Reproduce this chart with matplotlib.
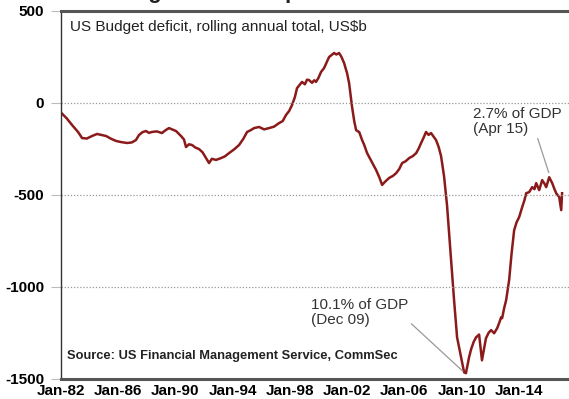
import matplotlib.pyplot as plt

# rolling annual total, read as (decimal year, US$b)
years = [
    1982.00, 1982.40, 1982.77, 1983.20, 1983.47, 1983.80, 1984.17, 1984.52,
    1984.85, 1985.15, 1985.50, 1985.85, 1986.20, 1986.62, 1986.95, 1987.24,
    1987.45, 1987.70, 1987.94, 1988.15, 1988.36, 1988.70, 1989.06, 1989.30,
    1989.55, 1989.80, 1990.04, 1990.39, 1990.60, 1990.74, 1990.95, 1991.16,
    1991.40, 1991.65, 1991.90, 1992.14, 1992.35, 1992.55, 1992.84, 1993.19,
    1993.45, 1993.75, 1994.10, 1994.45, 1994.75, 1995.01, 1995.25, 1995.50,
    1995.85, 1996.20, 1996.55, 1996.90, 1997.24, 1997.50, 1997.73, 1997.95,
    1998.15, 1998.35, 1998.50, 1998.70, 1998.85, 1999.05, 1999.20, 1999.34,
    1999.55, 1999.70, 1999.83, 2000.00, 2000.18, 2000.39, 2000.55, 2000.74,
    2000.90, 2001.09, 2001.25, 2001.44, 2001.60, 2001.79, 2002.00, 2002.14,
    2002.35, 2002.50, 2002.63, 2002.85, 2003.05, 2003.20, 2003.40, 2003.70,
    2004.03, 2004.25, 2004.45, 2004.65, 2004.94, 2005.20, 2005.43, 2005.65,
    2005.85, 2006.10, 2006.34, 2006.60, 2006.83, 2007.00, 2007.17, 2007.35,
    2007.52, 2007.70, 2007.87, 2008.05, 2008.22, 2008.40, 2008.57, 2008.78,
    2008.99, 2009.27, 2009.48, 2009.69, 2009.97, 2010.18, 2010.31, 2010.53,
    2010.67, 2010.85, 2011.02, 2011.23, 2011.43, 2011.71, 2011.90, 2012.07,
    2012.28, 2012.49, 2012.63, 2012.77, 2012.84, 2012.98, 2013.12, 2013.33,
    2013.50, 2013.68, 2013.85, 2014.03, 2014.24, 2014.40, 2014.52, 2014.73,
    2014.94, 2015.10, 2015.22, 2015.43, 2015.64, 2015.80, 2015.92, 2016.13,
    2016.34, 2016.50, 2016.62, 2016.83, 2016.97, 2017.03,
]
deficit = [
    -54, -85, -121, -160, -192, -195, -181, -170,
    -176, -181, -196, -208, -214, -219, -216, -203,
    -176, -160, -154, -164, -159, -156, -165, -150,
    -138, -146, -154, -181, -200, -241, -226, -230,
    -244, -252, -270, -301, -328, -305, -311, -301,
    -292, -274, -254, -230, -196, -159, -150, -138,
    -132, -145, -138, -130, -111, -100, -67, -45,
    -13, 30, 79, 98, 113, 100, 125, 123,
    108, 122, 113, 135, 167, 188, 215, 248,
    258, 270, 262, 270, 250, 216, 160, 107,
    -23, -100, -149, -160, -203, -230, -274, -318,
    -366, -405, -447, -430, -409, -398, -383, -360,
    -328, -318, -301, -290, -274, -250, -220, -190,
    -159, -175, -165, -185, -203, -240, -290, -400,
    -560, -856, -1073, -1275, -1383, -1465, -1470, -1383,
    -1340, -1300, -1275, -1260, -1400, -1280, -1250, -1236,
    -1253, -1226, -1198, -1166, -1171, -1117, -1073, -964,
    -820, -693, -650, -622, -568, -530, -492, -486,
    -459, -470, -437, -475, -421, -440, -459, -405,
    -437, -470, -492, -513, -584, -492,
]

tick_years = [1982, 1986, 1990, 1994, 1998, 2002, 2006, 2010, 2014]
tick_labels = ["Jan-82", "Jan-86", "Jan-90", "Jan-94", "Jan-98",
               "Jan-02", "Jan-06", "Jan-10", "Jan-14"]
y_ticks = [500, 0, -500, -1000, -1500]

plt.rcParams["font.family"] = ["Liberation Sans", "DejaVu Sans"]

fig = plt.figure(figsize=(5.69, 3.99), dpi=100, facecolor="white")
ax = fig.add_axes([0.1072, 0.0509, 0.905, 0.9223])

ax.plot(years, deficit, color="#8B1A1A", linewidth=1.8, solid_joinstyle="round")

ax.set_xlim(1982, 2018)
ax.set_ylim(-1500, 500)
ax.set_yticks(y_ticks)
ax.set_yticklabels([str(v) for v in y_ticks], fontsize=11, fontweight="bold")
ax.set_xticks(tick_years)
ax.set_xticklabels(tick_labels, fontsize=11, fontweight="bold")
ax.tick_params(axis="y", length=7, color="#bbbbbb", pad=5)
ax.tick_params(axis="x", length=0, pad=4)

for v in [0, -500, -1000]:
    ax.axhline(v, color="#999999", linewidth=0.9, linestyle=(0, (1, 1.5)))

for side in ["top", "bottom"]:
    ax.spines[side].set_color("#555555")
    ax.spines[side].set_linewidth(2.2)
ax.spines["left"].set_color("#333333")
ax.spines["left"].set_linewidth(1.0)
ax.spines["right"].set_visible(False)

ax.text(0.018, 0.955, "US Budget deficit, rolling annual total, US$b",
        transform=ax.transAxes, fontsize=11, color="#222222", va="center")
ax.text(0.012, 0.063, "Source: US Financial Management Service, CommSec",
        transform=ax.transAxes, fontsize=9.3, fontweight="bold", color="#222222",
        va="center")

# annotations on the two turning points
ax.annotate("2.7% of GDP\n(Apr 15)", xy=(2016.1, -380), xytext=(2010.8, -100),
            fontsize=11, color="#333333", linespacing=1.1, va="center",
            arrowprops=dict(arrowstyle="-", color="#999999", linewidth=0.9,
                            shrinkA=0, shrinkB=0, relpos=(0.72, 0.0)))
ax.annotate("10.1% of GDP\n(Dec 09)", xy=(2010.1, -1460), xytext=(1999.5, -1140),
            fontsize=11, color="#333333", linespacing=1.1, va="center",
            arrowprops=dict(arrowstyle="-", color="#999999", linewidth=0.9,
                            shrinkA=0, shrinkB=0, relpos=(1.0, 0.2)))

# page heading sits mostly above the top edge
fig.text(0.185, 1.004, "Budget deficit improves", fontsize=16,
         fontweight="bold", color="#222222", va="baseline")

fig.savefig("out.png", dpi=100, facecolor="white")
